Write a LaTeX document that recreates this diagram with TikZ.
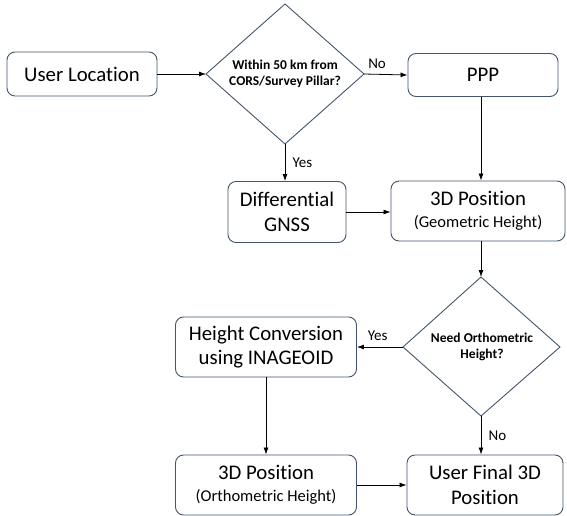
\documentclass[tikz,border=0pt]{standalone}
\usepackage{fontspec}
\setmainfont{Carlito}[Ligatures=NoCommon]
\usetikzlibrary{arrows.meta,shapes.geometric}
\definecolor{boxline}{HTML}{44546A}
\begin{document}
\begin{tikzpicture}[x=1pt,y=-1pt,
  box/.style={draw=boxline,line width=0.9pt,rounded corners=8pt,align=center,inner sep=0pt,font=\fontsize{20.8}{24.5}\selectfont},
  dia/.style={draw=boxline,line width=0.9pt},
  arr/.style={-{Latex[length=7pt,width=5pt]},line width=0.8pt,black},
  lbl/.style={font=\fontsize{15}{17}\selectfont},
  dtext/.style={font=\bfseries\fontsize{13.5}{16}\selectfont,align=center}]
\useasboundingbox (0,0) rectangle (567,516);
% boxes
\node[box,minimum width=150pt,minimum height=44pt] (user) at (82,74) {User Location};
\node[box,minimum width=150pt,minimum height=43pt] (ppp) at (483,75) {PPP};
\node[box,minimum width=118pt,minimum height=61pt] (dgnss) at (287,212) {Differential\\GNSS};
\node[box,minimum width=174pt,minimum height=60pt] (geo) at (478,211) {3D Position\\[-3pt]{\fontsize{16.5}{19}\selectfont (Geometric Height)}};
\node[box,minimum width=181pt,minimum height=60pt] (conv) at (266,347) {Height Conversion\\using INAGEOID};
\node[box,minimum width=181pt,minimum height=60pt] (ortho) at (266,485) {3D Position\\[-3pt]{\fontsize{16.5}{19}\selectfont (Orthometric Height)}};
\node[box,minimum width=156pt,minimum height=60pt] (final) at (485,485) {User Final 3D\\Position};
% diamonds
\draw[dia] (206,74) coordinate (d1w) -- (285,4) coordinate (d1n) -- (364,74) coordinate (d1e) -- (285,144) coordinate (d1s) -- cycle;
\node[dtext] (d1t) at (285,74) {Within 50 km from\\CORS/Survey Pillar?};
\draw[dia] (403,347) coordinate (d2w) -- (481,277) coordinate (d2n) -- (560,347) coordinate (d2e) -- (481,416) coordinate (d2s) -- cycle;
\node[dtext] (d2t) at (482,347) {Need Orthometric\\Height?};
% connectors
\draw[arr] (user.east) -- (d1w);
\draw[arr] (d1e) -- (ppp.west) node[pos=0.3,above=2pt,lbl] (no1) {No};
\draw[arr] (d1s) -- (d1s |- dgnss.north) node[midway,right=4pt,lbl] (yes1) {Yes};
\draw[arr] (dgnss.east) -- (dgnss.east -| geo.west);
\draw[arr] (ppp.south -| 481,0) -- (481,0 |- geo.north);
\draw[arr] (481,0 |- geo.south) -- (d2n);
\draw[arr] (d2w) -- (d2w -| conv.east) node[pos=0.55,above=3pt,lbl] (yes2) {Yes};
\draw[arr] (d2s) -- (d2s |- final.north) node[midway,right=4pt,lbl] (no2) {No};
\draw[arr] (conv.south) -- (ortho.north);
\draw[arr] (ortho.east) -- (ortho.east -| final.west);
\end{tikzpicture}
\end{document}
